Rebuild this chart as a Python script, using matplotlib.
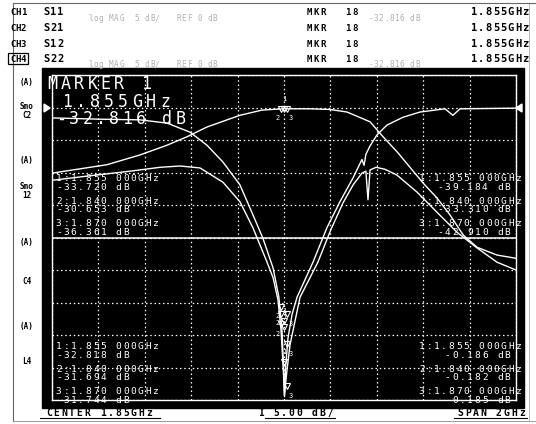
import numpy as np
import matplotlib
matplotlib.use("Agg")
import matplotlib.pyplot as plt
from matplotlib.patches import Rectangle, Polygon

W, H = 536, 424

# sweep / display settings
center_ghz = 1.855
span_ghz = 2.0
db_per_div = 5.0
top_db = 5.0          # ref 0 dB sits one division below the top line
limit_db = -20.0      # solid reference line

# passband trace (GHz, dB)
pass_f = [0.855, 0.946, 1.092, 1.234, 1.351, 1.437, 1.523, 1.665, 1.760, 1.855,
          1.967, 2.053, 2.127, 2.226, 2.282, 2.342, 2.398, 2.454, 2.514, 2.570,
          2.627, 2.687, 2.773, 2.855]
pass_db = [-10.1, -9.6, -8.8, -7.3, -5.8, -4.5, -3.0, -1.2, -0.4, -0.19,
           -0.2, -0.3, -0.7, -2.2, -4.5, -6.8, -9.2, -11.6, -13.9, -16.5,
           -19.6, -21.5, -22.7, -23.2]

# notch trace, flat shoulders
notch_a_f = [0.855, 1.062, 1.234, 1.351, 1.450, 1.523, 1.592, 1.665, 1.721, 1.764,
             1.808, 1.833, 1.846, 1.853, 1.857, 1.862, 1.872, 1.890, 1.911, 1.980,
             2.040, 2.096, 2.153, 2.191, 2.200, 2.208, 2.226, 2.256, 2.299, 2.368,
             2.441, 2.549, 2.583, 2.614, 2.855]
notch_a_db = [-1.6, -1.8, -1.9, -2.4, -3.8, -5.8, -8.4, -11.9, -16.5, -20.1,
              -24.7, -29.2, -34.0, -40.0, -44.5, -40.0, -35.5, -31.8, -29.2, -23.8,
              -18.5, -14.5, -10.8, -8.0, -8.9, -7.2, -5.9, -4.2, -2.7, -1.5,
              -0.7, -0.2, -1.2, -0.2, -0.1]

# notch trace, humped shoulders
notch_b_f = [0.855, 1.019, 1.191, 1.321, 1.407, 1.493, 1.592, 1.665, 1.721, 1.782,
             1.808, 1.829, 1.842, 1.851, 1.857, 1.868, 1.881, 1.924, 2.001, 2.057,
             2.109, 2.153, 2.191, 2.208, 2.217, 2.226, 2.252, 2.290, 2.342, 2.428,
             2.514, 2.601, 2.687, 2.773, 2.855]
notch_b_db = [-11.2, -10.5, -9.8, -9.2, -9.0, -9.3, -11.5, -14.5, -18.5, -23.8,
              -26.2, -29.6, -34.2, -39.6, -44.2, -40.4, -36.5, -29.2, -23.8, -18.8,
              -14.7, -11.9, -10.1, -9.8, -14.2, -9.6, -9.2, -9.5, -10.4, -13.0,
              -16.1, -19.2, -21.6, -23.8, -25.0]

# marker readouts
mkr_f = [1.855, 1.840, 1.870]
mkr_ch1 = [-33.720, -30.653, -36.361]
mkr_ch2 = [-39.184, -33.310, -42.910]
mkr_ch3 = [-32.818, -31.694, -31.744]
mkr_ch4 = [-0.186, -0.182, -0.185]
active_f = 1.855
active_db = -32.816

ch_names = ["CH1", "CH2", "CH3", "CH4"]
params = ["S11", "S21", "S12", "S22"]
side_labels = ["(A)", "Smo\nC2", "(A)", "Smo\n12", "(A)", "C4", "(A)", "L4"]

fig = plt.figure(figsize=(W / 100, H / 100), dpi=100)

bg = fig.add_axes([0, 0, 1, 1], zorder=0)
bg.set_xlim(0, W)
bg.set_ylim(H, 0)
bg.axis("off")
bg.add_patch(Rectangle((42, 68), 482, 340, color="black"))
bg.plot([13, 13], [4, 421], color="#666666", lw=0.8)
bg.plot([13, 535], [3, 3], color="#666666", lw=0.8)
bg.plot([13, 535], [421, 421], color="#888888", lw=0.6)
bg.plot([529, 529], [4, 421], color="#aaaaaa", lw=0.6)

# graticule
ax = fig.add_axes([52 / W, 1 - 400 / H, 464 / W, 325 / H], zorder=2)
ax.set_facecolor("none")
x0 = center_ghz - span_ghz / 2
x1 = center_ghz + span_ghz / 2
ax.set_xlim(x0, x1)
ax.set_ylim(top_db - 10 * db_per_div, top_db)
ax.set_xticks(np.linspace(x0, x1, 11))
ax.set_yticks(np.arange(top_db - 10 * db_per_div, top_db + 0.1, db_per_div))
ax.tick_params(length=0, labelbottom=False, labelleft=False)
ax.grid(True, color="white", linestyle=(0, (1.2, 2.2)), lw=0.9)
for s in ax.spines.values():
    s.set_color("white")
    s.set_linewidth(1.0)
ax.axhline(limit_db, color="white", lw=1.1)

for f, db in [(pass_f, pass_db), (notch_a_f, notch_a_db), (notch_b_f, notch_b_db)]:
    ax.plot(f, db, color="white", lw=1.0)

# markers on each channel
for vals in [mkr_ch1, mkr_ch2, mkr_ch3, mkr_ch4]:
    for i, (f, db) in enumerate(zip(mkr_f, vals)):
        ax.plot(f, db, marker="v", ms=4.5, mfc="none", mec="white", mew=0.8)
        dy = 7 if i == 0 else -7
        dx = -2 if i == 1 else (2 if i == 2 else 0)
        ax.annotate(str(i + 1), (f, db), xytext=(dx, dy), textcoords="offset points",
                    fontsize=5, color="white", ha="center", va="center",
                    family="DejaVu Sans Mono")

ov = fig.add_axes([0, 0, 1, 1], zorder=3)
ov.set_xlim(0, W)
ov.set_ylim(H, 0)
ov.set_facecolor("none")
ov.axis("off")


def put(x, y, s, size, pitch, color="white", weight="normal"):
    # fixed-pitch screen text, one glyph per cell, y is the baseline
    for i, ch in enumerate(s):
        if ch != " ":
            ov.text(x + (i + 0.5) * pitch, y, ch, fontsize=size, color=color,
                    ha="center", va="baseline", family="DejaVu Sans Mono",
                    weight=weight)


# reference pointers
ov.add_patch(Polygon([[44, 104], [44, 112], [50, 108]], closed=True, color="white"))
ov.add_patch(Polygon([[522, 104], [522, 112], [516, 108]], closed=True, color="white"))

# active marker block
put(46, 89, "MARKER 1", 12, 13.3)
put(60, 107, "%.3fGHz" % active_f, 12, 14.0)
put(54, 124, "%.3f dB" % active_db, 12, 13.3)


def mkr_list(x, y, vals, right=False):
    for i, (f, db) in enumerate(zip(mkr_f, vals)):
        yy = y + i * 22.5
        put(x, yy, "%d:%.3f 000GHz" % (i + 1, f), 6.8, 7.45)
        s = "%.3f dB" % db
        if right:
            put(511 - len(s) * 7.45, yy + 9, s, 6.8, 7.45)
        else:
            put(x, yy + 9, s, 6.8, 7.45)


mkr_list(55, 181, mkr_ch1)
mkr_list(418, 181, mkr_ch2, right=True)
mkr_list(55, 349, mkr_ch3)
mkr_list(418, 349, mkr_ch4, right=True)

# header rows
row_y = [15, 31, 47, 62]
for k in range(4):
    y = row_y[k]
    put(10, y, ch_names[k], 6.5, 5.4, color="black", weight="bold")
    put(43, y, params[k], 7.5, 7.0, color="black", weight="bold")
    put(306, y, "MKR", 6.5, 7.0, color="black", weight="bold")
    put(345, y, "18", 6.5, 6.5, color="black", weight="bold")
    put(470, y, "%.3fGHz" % active_f, 7.5, 7.4, color="black", weight="bold")
ov.add_patch(Rectangle((8, 53), 20, 11, fill=False, ec="black", lw=0.9))
for y in (21, 67):
    put(88, y, "log MAG", 5.5, 5.2, color="#b0b0b0")
    put(134, y, "5 dB/", 5.5, 5.2, color="#b0b0b0")
    put(176, y, "REF 0 dB", 5.5, 5.2, color="#b0b0b0")
    put(368, y, "%.3f dB" % active_db, 5.5, 5.2, color="#b0b0b0")

# annotation column
side_y = [83, 111, 160, 191, 242, 281, 327, 362]
for lab, y in zip(side_labels, side_y):
    ov.text(27, y, lab, fontsize=5.5, color="black", weight="bold", ha="center",
            va="center", family="DejaVu Sans Mono", linespacing=0.9)

# bottom status line
put(45, 416, "CENTER 1.85GHz", 7, 7.7, color="black", weight="bold")
put(257, 416, "I 5.00 dB/", 7, 7.7, color="black", weight="bold")
put(456, 416, "SPAN 2GHz", 7, 7.8, color="black", weight="bold")
ov.plot([40, 160], [418, 418], color="black", lw=0.8)
ov.plot([265, 335], [418, 418], color="black", lw=0.8)
ov.plot([454, 527], [418, 418], color="black", lw=0.8)

fig.savefig("out.png", dpi=100, facecolor="white")
